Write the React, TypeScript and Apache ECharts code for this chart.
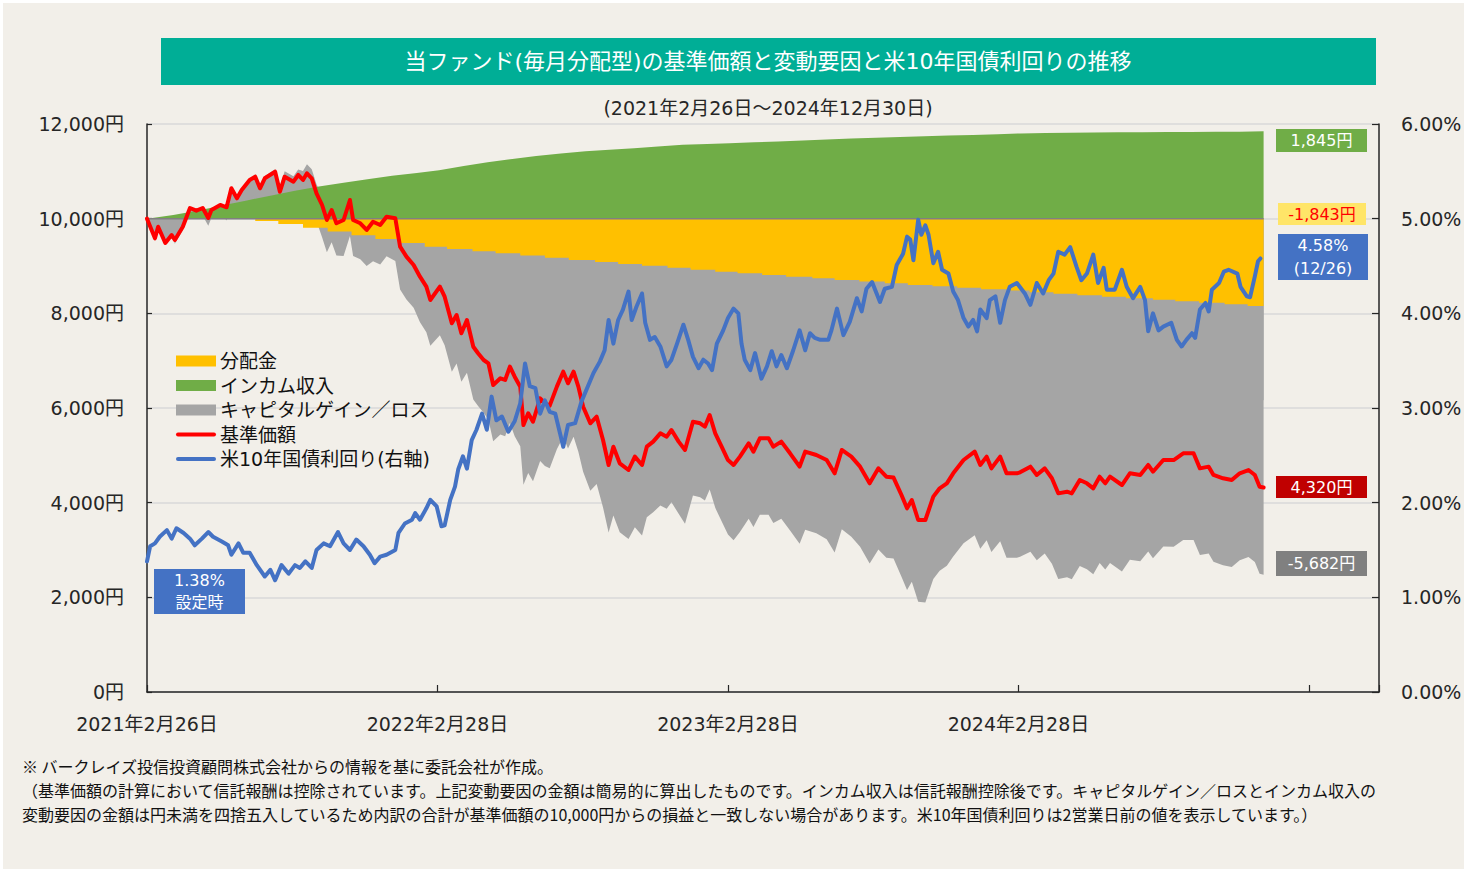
import React, { useEffect, useRef } from 'react';
import * as echarts from 'echarts';

// ---- data ----
const START_UTC = Date.UTC(2021, 1, 26); // 設定日 2021-02-26
const DAY_MS = 86400000;
const dayOf = (s: string) => {
  const [y, m, d] = s.split('-').map(Number);
  return Math.round((Date.UTC(y, m - 1, d) - START_UTC) / DAY_MS);
};

const xTickLabels = ['2021年2月26日', '2022年2月28日', '2023年2月28日', '2024年2月28日', ''];

// 基準価額 (days since 2021-02-26, yen)
const navDay = [0, 10, 14, 23, 31, 35, 45, 54, 62, 70, 77, 81, 92, 100, 106, 113, 119, 129, 136, 142, 148, 161, 167, 173, 184, 190, 196, 201, 207, 213, 220, 226, 232, 238, 247, 255, 259, 268, 276, 284, 293, 301, 312, 318, 326, 335, 343, 351, 356, 368, 374, 383, 389, 395, 402, 410, 416, 423, 429, 435, 444, 450, 456, 462, 469, 473, 479, 485, 494, 500, 506, 515, 523, 529, 536, 542, 548, 557, 565, 573, 580, 586, 594, 605, 613, 622, 628, 636, 645, 653, 659, 668, 676, 686, 695, 701, 707, 714, 722, 730, 737, 745, 756, 762, 770, 781, 787, 797, 808, 820, 827, 841, 854, 864, 873, 885, 896, 908, 919, 929, 938, 948, 955, 961, 969, 978, 988, 996, 1005, 1013, 1026, 1040, 1047, 1055, 1061, 1072, 1080, 1093, 1097, 1110, 1118, 1128, 1137, 1145, 1156, 1162, 1172, 1181, 1189, 1197, 1204, 1210, 1225, 1235, 1248, 1258, 1264, 1277, 1290, 1302, 1315, 1323, 1334, 1340, 1352, 1363, 1373, 1384, 1392, 1398, 1403];
const navYen = [10000, 9585, 9830, 9486, 9655, 9549, 9830, 10225, 10168, 10225, 10014, 10183, 10289, 10240, 10642, 10430, 10606, 10817, 10887, 10642, 10853, 10992, 10570, 10887, 10781, 10923, 10817, 10958, 10853, 10536, 10289, 9972, 10183, 9902, 9972, 10394, 9972, 9902, 9761, 9936, 9866, 10042, 10008, 9408, 9197, 9021, 8774, 8563, 8282, 8563, 8352, 7790, 7965, 7578, 7859, 7295, 7156, 7014, 6944, 6486, 6628, 6592, 6873, 6662, 6451, 5641, 5888, 5711, 6205, 6099, 6050, 6451, 6767, 6522, 6767, 6451, 6028, 5677, 5817, 5324, 4796, 5183, 4831, 4690, 4972, 4796, 5183, 5289, 5465, 5394, 5535, 5289, 5113, 5711, 5677, 5606, 5852, 5465, 5183, 4901, 4796, 4972, 5254, 5078, 5360, 5360, 5183, 5289, 5043, 4761, 5078, 5007, 4901, 4620, 5113, 4972, 4761, 4409, 4725, 4549, 4530, 4162, 3880, 4056, 3634, 3634, 4127, 4303, 4409, 4620, 4901, 5078, 4796, 4972, 4725, 4972, 4620, 4620, 4640, 4761, 4585, 4725, 4515, 4197, 4232, 4197, 4479, 4409, 4303, 4549, 4409, 4549, 4373, 4620, 4585, 4796, 4654, 4901, 4901, 5043, 5043, 4725, 4761, 4585, 4515, 4479, 4620, 4690, 4585, 4337, 4320];

// 米10年国債利回り (days since 2021-02-26, %)
const yieldDay = [0, 4, 10, 16, 25, 31, 37, 46, 54, 60, 69, 77, 83, 94, 102, 106, 115, 121, 129, 138, 148, 155, 161, 169, 178, 186, 192, 199, 207, 213, 222, 230, 240, 247, 255, 263, 272, 280, 286, 293, 301, 312, 316, 324, 333, 337, 343, 351, 356, 364, 370, 374, 381, 387, 391, 397, 402, 408, 414, 421, 427, 433, 439, 446, 454, 462, 469, 475, 481, 488, 494, 500, 506, 513, 519, 523, 529, 538, 546, 554, 561, 569, 575, 580, 586, 592, 598, 605, 609, 615, 622, 626, 632, 638, 645, 653, 659, 666, 674, 680, 686, 693, 699, 705, 710, 716, 724, 730, 737, 743, 747, 751, 758, 764, 772, 779, 785, 791, 797, 804, 812, 820, 827, 833, 839, 846, 856, 860, 867, 875, 883, 892, 898, 904, 911, 921, 927, 936, 942, 950, 955, 959, 963, 969, 973, 978, 982, 988, 994, 999, 1007, 1013, 1019, 1026, 1032, 1038, 1043, 1047, 1055, 1059, 1066, 1072, 1078, 1084, 1093, 1103, 1110, 1118, 1126, 1133, 1139, 1145, 1153, 1160, 1168, 1174, 1181, 1189, 1195, 1202, 1206, 1216, 1225, 1231, 1239, 1248, 1254, 1258, 1264, 1271, 1277, 1287, 1294, 1300, 1306, 1313, 1317, 1323, 1330, 1334, 1338, 1347, 1353, 1359, 1370, 1374, 1382, 1386, 1392, 1396, 1399];
const yieldPct = [1.38, 1.54, 1.57, 1.64, 1.71, 1.62, 1.73, 1.68, 1.62, 1.55, 1.62, 1.69, 1.64, 1.59, 1.55, 1.45, 1.57, 1.47, 1.47, 1.34, 1.22, 1.29, 1.18, 1.34, 1.25, 1.34, 1.31, 1.38, 1.31, 1.50, 1.57, 1.54, 1.69, 1.57, 1.50, 1.61, 1.54, 1.45, 1.36, 1.43, 1.45, 1.50, 1.68, 1.78, 1.82, 1.89, 1.82, 1.94, 2.03, 1.96, 1.75, 1.76, 2.03, 2.17, 2.35, 2.49, 2.36, 2.66, 2.77, 2.94, 2.77, 3.12, 2.87, 2.91, 2.75, 2.86, 3.05, 3.47, 3.23, 3.21, 2.94, 3.08, 2.96, 2.94, 2.73, 2.59, 2.82, 2.84, 3.07, 3.23, 3.37, 3.49, 3.61, 3.93, 3.68, 3.93, 4.04, 4.23, 3.93, 4.07, 4.21, 3.90, 3.72, 3.75, 3.65, 3.44, 3.51, 3.68, 3.88, 3.72, 3.54, 3.42, 3.51, 3.47, 3.40, 3.68, 3.82, 3.95, 4.05, 4.00, 3.68, 3.51, 3.40, 3.58, 3.31, 3.44, 3.60, 3.44, 3.56, 3.42, 3.61, 3.82, 3.61, 3.79, 3.74, 3.72, 3.72, 3.82, 4.05, 3.77, 3.91, 4.16, 4.02, 4.26, 4.33, 4.12, 4.26, 4.28, 4.51, 4.63, 4.81, 4.78, 4.56, 4.99, 4.83, 4.93, 4.83, 4.53, 4.65, 4.46, 4.42, 4.23, 4.14, 3.95, 3.86, 3.93, 3.81, 4.04, 3.95, 4.14, 4.18, 3.90, 4.14, 4.28, 4.32, 4.21, 4.09, 4.32, 4.21, 4.35, 4.42, 4.65, 4.62, 4.70, 4.49, 4.35, 4.42, 4.62, 4.32, 4.48, 4.25, 4.25, 4.46, 4.28, 4.16, 4.28, 4.14, 3.81, 4.00, 3.82, 3.86, 3.90, 3.72, 3.65, 3.72, 3.79, 3.74, 4.04, 4.11, 4.02, 4.25, 4.32, 4.44, 4.46, 4.42, 4.28, 4.18, 4.17, 4.39, 4.55, 4.58];

// インカム収入 (cumulative, yen)
const incomeDates = ['2021-02-26', '2021-03-31', '2021-04-30', '2021-05-31', '2021-06-30', '2021-07-31', '2021-08-31', '2021-09-30', '2021-10-31', '2021-11-30', '2021-12-31', '2022-01-31', '2022-02-28', '2022-03-31', '2022-04-30', '2022-05-31', '2022-06-30', '2022-07-31', '2022-08-31', '2022-09-30', '2022-10-31', '2022-11-30', '2022-12-31', '2023-01-31', '2023-02-28', '2023-03-31', '2023-04-30', '2023-05-31', '2023-06-30', '2023-07-31', '2023-08-31', '2023-09-30', '2023-10-31', '2023-11-30', '2023-12-31', '2024-01-31', '2024-02-29', '2024-03-31', '2024-04-30', '2024-05-31', '2024-06-30', '2024-07-31', '2024-08-31', '2024-09-30', '2024-10-31', '2024-11-30', '2024-12-30'];
const incomeYen = [0, 77, 165, 280, 380, 485, 590, 680, 760, 835, 905, 965, 1025, 1115, 1190, 1260, 1325, 1375, 1425, 1455, 1490, 1525, 1560, 1575, 1592, 1615, 1630, 1652, 1672, 1692, 1712, 1727, 1742, 1757, 1767, 1785, 1800, 1808, 1815, 1822, 1825, 1827, 1830, 1833, 1836, 1838, 1845];

// 分配金 (cumulative, yen)
const distDates = ['2021-07-12', '2021-08-10', '2021-09-10', '2021-10-11', '2021-11-10', '2021-12-10', '2022-01-11', '2022-02-10', '2022-03-10', '2022-04-11', '2022-05-10', '2022-06-10', '2022-07-11', '2022-08-10', '2022-09-12', '2022-10-11', '2022-11-10', '2022-12-12', '2023-01-10', '2023-02-10', '2023-03-10', '2023-04-10', '2023-05-10', '2023-06-12', '2023-07-10', '2023-08-10', '2023-09-11', '2023-10-10', '2023-11-10', '2023-12-11', '2024-01-10', '2024-02-13', '2024-03-11', '2024-04-10', '2024-05-10', '2024-06-10', '2024-07-10', '2024-08-13', '2024-09-10', '2024-10-10', '2024-11-11', '2024-12-10'];
const distCumYen = [50, 115, 190, 270, 350, 430, 512, 592, 639, 686, 733, 780, 827, 874, 915, 956, 997, 1038, 1079, 1120, 1155, 1190, 1225, 1260, 1295, 1330, 1365, 1400, 1430, 1460, 1490, 1520, 1552, 1584, 1616, 1649, 1681, 1713, 1746, 1778, 1810, 1843];

const BASE = 10000;
const legendNames = ['分配金', 'インカム収入', 'キャピタルゲイン／ロス', '基準価額', '米10年国債利回り(右軸)'];
const footerLines = [
  '※ バークレイズ投信投資顧問株式会社からの情報を基に委託会社が作成。',
  '（基準価額の計算において信託報酬は控除されています。上記変動要因の金額は簡易的に算出したものです。インカム収入は信託報酬控除後です。キャピタルゲイン／ロスとインカム収入の',
  '変動要因の金額は円未満を四捨五入しているため内訳の合計が基準価額の10,000円からの損益と一致しない場合があります。米10年国債利回りは2営業日前の値を表示しています。）',
];
const titleText = '当ファンド(毎月分配型)の基準価額と変動要因と米10年国債利回りの推移';
const periodText = '(2021年2月26日～2024年12月30日)';

const C_YELLOW = '#FFC000';
const C_GREEN = '#70AD47';
const C_GRAY = '#A5A5A5';
const C_RED = '#FF0000';
const C_BLUE = '#4472C4';
const FONT = "'DejaVu Sans', 'Noto Sans CJK JP', sans-serif";
const JFONT = "'Noto Sans CJK JP', sans-serif";
const TXT = '#262626';

const fmt = (v: number) => v.toLocaleString('en-US');

export default function App() {
  const ref = useRef<HTMLDivElement>(null);

  useEffect(() => {
    if (!ref.current) return;
    const chart = echarts.init(ref.current, undefined, { renderer: 'svg' });

    const incomeDays = incomeDates.map(dayOf);
    const distDays = distDates.map(dayOf);
    const stepAt = (days: number[], vals: number[], d: number, init: number) => {
      let v = init;
      for (let i = 0; i < days.length; i++) if (days[i] <= d) v = vals[i];
      return v;
    };
    const distAt = (d: number) => stepAt(distDays, distCumYen, d, 0);
    const incAt = (d: number) => stepAt(incomeDays, incomeYen, d, 0);

    const lastDay = navDay[navDay.length - 1];
    const navLast = navYen[navYen.length - 1];
    const incLast = incomeYen[incomeYen.length - 1];
    const distLast = distCumYen[distCumYen.length - 1];
    const capLast = navLast - BASE - incLast + distLast;
    const yLast = yieldPct[yieldPct.length - 1];
    const yFirst = yieldPct[0];
    const yDate = new Date(START_UTC + yieldDay[yieldDay.length - 1] * DAY_MS);
    const yDateTxt = `(${yDate.getUTCMonth() + 1}/${yDate.getUTCDate()})`;

    const grayUpper = navDay.map((d, i) => [d, navYen[i] + distAt(d)]);
    const grayLower = navDay.map((d, i) => [d, navYen[i] - incAt(d)]);
    const greenData = incomeDays.map((d, i) => [d, BASE + incomeYen[i]]);
    const yellowData = [[0, BASE], ...distDays.map((d, i) => [d, BASE - distCumYen[i]]), [lastDay, BASE - distLast]];
    const navData = navDay.map((d, i) => [d, navYen[i]]);
    const yieldData = yieldDay.map((d, i) => [d, yieldPct[i]]);

    const areaSeries = (data: number[][], color: string, step?: string) => ({
      type: 'line',
      data,
      step: step || false,
      symbol: 'none',
      showSymbol: false,
      silent: true,
      lineStyle: { width: 0, opacity: 0 },
      areaStyle: { color, opacity: 1, origin: BASE },
    });

    const rows = [361, 385.5, 410, 434.5, 459];
    const legendColors = [C_YELLOW, C_GREEN, C_GRAY, C_RED, C_BLUE];
    const legendEls: any[] = [];
    legendNames.forEach((name, i) => {
      const y = rows[i];
      if (i < 3) {
        legendEls.push({ type: 'rect', shape: { x: 176, y: y - 5.5, width: 40, height: 11 }, style: { fill: legendColors[i] } });
      } else {
        legendEls.push({ type: 'line', shape: { x1: 178, y1: y, x2: 214, y2: y }, style: { stroke: legendColors[i], lineWidth: 4, lineCap: 'round' } });
      }
      legendEls.push({
        type: 'text', x: 220, y,
        style: { text: name, fontSize: 19, fontFamily: FONT, fill: '#111', align: 'left', textAlign: 'left', verticalAlign: 'middle', textVerticalAlign: 'middle' },
      });
    });

    const box = (x: number, y: number, w: number, h: number, fill: string, text: string, color: string, lh = 22) => [
      { type: 'rect', shape: { x, y, width: w, height: h }, style: { fill } },
      {
        type: 'text', x: x + w / 2, y: y + h / 2,
        style: { text, fontSize: 16, fontFamily: FONT, fill: color, lineHeight: lh, align: 'center', textAlign: 'center', verticalAlign: 'middle', textVerticalAlign: 'middle' },
      },
    ];

    const graphicEls: any[] = [
      { type: 'rect', shape: { x: 161, y: 38, width: 1215, height: 47 }, style: { fill: '#00AE96' } },
      {
        type: 'text', x: 768, y: 61.5,
        style: { text: titleText, fontSize: 22, fontFamily: FONT, fill: '#ffffff', align: 'center', textAlign: 'center', verticalAlign: 'middle', textVerticalAlign: 'middle' },
      },
      {
        type: 'text', x: 768, y: 108,
        style: { text: periodText, fontSize: 19, fontFamily: FONT, fill: TXT, align: 'center', textAlign: 'center', verticalAlign: 'middle', textVerticalAlign: 'middle' },
      },
      ...legendEls,
      ...box(1276, 129, 91, 23, C_GREEN, `${fmt(incLast)}円`, '#ffffff'),
      ...box(1278, 203, 88, 22, '#FFE568', `-${fmt(distLast)}円`, '#FF0000'),
      ...box(1278, 234, 90, 46, C_BLUE, `${yLast.toFixed(2)}%\n${yDateTxt}`, '#ffffff', 23),
      ...box(1276, 476, 91, 22, '#C00000', `${fmt(navLast)}円`, '#ffffff'),
      ...box(1276, 551, 91, 25, '#808080', `${capLast < 0 ? '-' : ''}${fmt(Math.abs(capLast))}円`, '#ffffff'),
      ...box(154, 569, 91, 45, C_BLUE, `${yFirst.toFixed(2)}%\n設定時`, '#ffffff', 22),
      ...footerLines.map((t, i) => ({
        type: 'text', x: 22, y: 766 + i * 24,
        style: { text: t, fontSize: 16, fontFamily: JFONT, fill: '#111', align: 'left', textAlign: 'left', verticalAlign: 'middle', textVerticalAlign: 'middle' },
      })),
    ];

    const axisLine = { show: true, onZero: false, lineStyle: { color: TXT, width: 1.5 } };

    const option: any = {
      animation: false,
      backgroundColor: 'transparent',
      textStyle: { fontFamily: FONT },
      grid: { left: 147, top: 124, right: 88, bottom: 180 },
      xAxis: {
        type: 'value', min: 0, max: 1548, interval: 365,
        axisLine,
        axisTick: { show: true, inside: true, length: 7, lineStyle: { color: TXT, width: 1.2 } },
        axisLabel: {
          margin: 22, fontSize: 19, color: TXT, fontFamily: FONT,
          formatter: (v: number) => {
            const i = v / 365;
            return Number.isInteger(i) && xTickLabels[i] ? xTickLabels[i] : '';
          },
        },
        splitLine: { show: false },
      },
      yAxis: [
        {
          type: 'value', min: 0, max: 12000, interval: 2000, position: 'left',
          axisLine,
          axisTick: { show: true, inside: true, length: 5, lineStyle: { color: TXT, width: 1.2 } },
          axisLabel: { margin: 23, fontSize: 19, color: TXT, fontFamily: FONT, formatter: (v: number) => `${fmt(v)}円` },
          splitLine: { show: true, lineStyle: { color: '#D9D9D9', width: 1.5 } },
        },
        {
          type: 'value', min: 0, max: 6, interval: 1, position: 'right',
          axisLine,
          axisTick: { show: true, inside: true, length: 7, lineStyle: { color: TXT, width: 1.2 } },
          axisLabel: { margin: 22, fontSize: 19, color: TXT, fontFamily: FONT, formatter: (v: number) => `${v.toFixed(2)}%` },
          splitLine: { show: false },
        },
      ],
      series: [
        { name: legendNames[2], ...areaSeries(grayUpper, C_GRAY) },
        { name: legendNames[2] + '_', ...areaSeries(grayLower, C_GRAY) },
        { name: legendNames[1], ...areaSeries(greenData, C_GREEN) },
        { name: legendNames[0], ...areaSeries(yellowData, C_YELLOW, 'end') },
        {
          name: 'base', type: 'line', data: [[0, BASE], [lastDay, BASE]], symbol: 'none', silent: true,
          lineStyle: { color: '#808080', width: 1.5 },
        },
        {
          name: legendNames[3], type: 'line', data: navData, symbol: 'none', showSymbol: false,
          lineStyle: { color: C_RED, width: 4, join: 'round', cap: 'round' },
        },
        {
          name: legendNames[4], type: 'line', yAxisIndex: 1, data: yieldData, symbol: 'none', showSymbol: false,
          lineStyle: { color: C_BLUE, width: 4, join: 'round', cap: 'round' },
        },
      ],
      graphic: { elements: graphicEls.map((e) => ({ ...e, z: 100 })) },
    };

    chart.setOption(option);
    return () => chart.dispose();
  }, []);

  return (
    <div
      style={{
        position: 'fixed', left: 0, top: 0, width: 1467, height: 872,
        background: '#F2EFE9', boxShadow: 'inset 0 0 0 3px #ffffff',
      }}
    >
      <div ref={ref} style={{ width: 1467, height: 872 }} />
    </div>
  );
}
